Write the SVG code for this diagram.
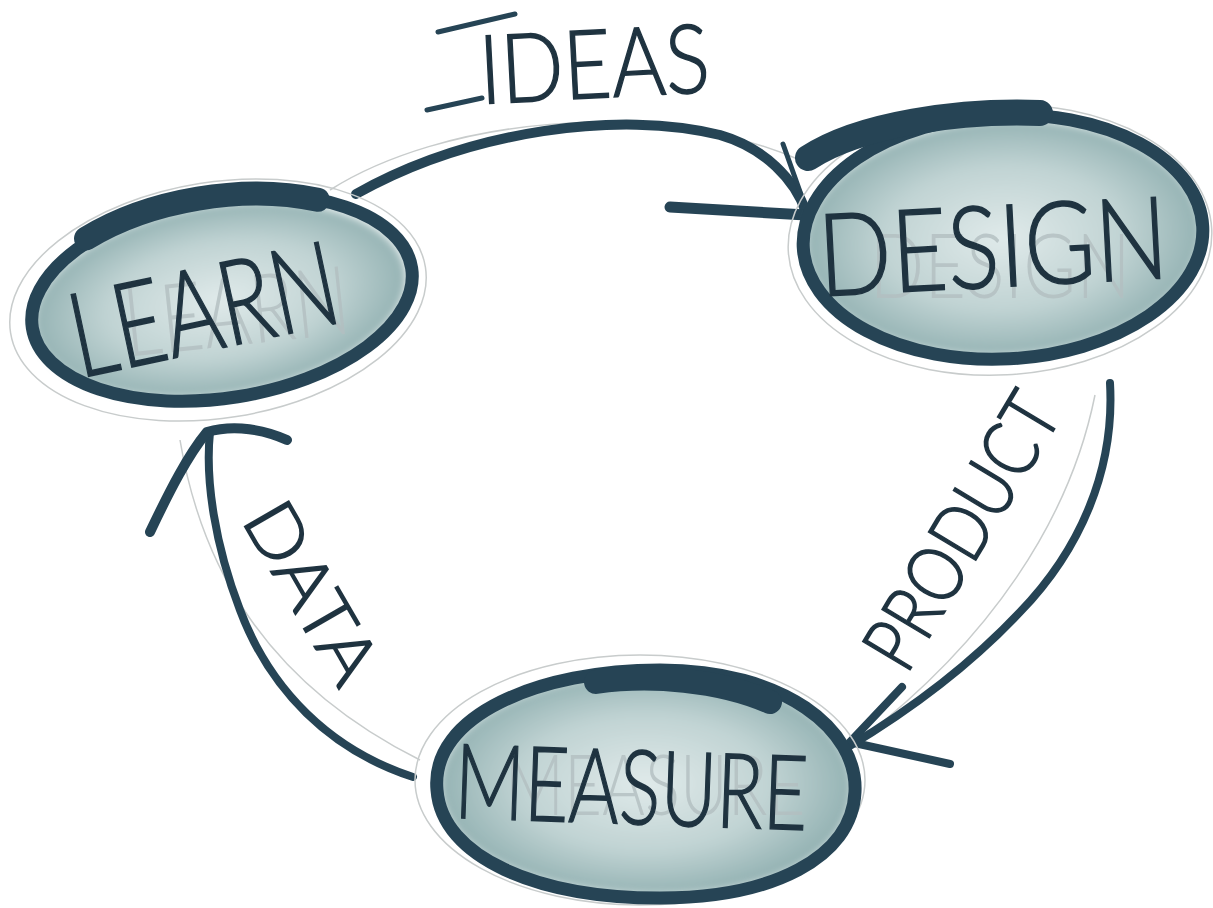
<svg xmlns="http://www.w3.org/2000/svg" width="1213" height="908" viewBox="0 0 1213 908">
  <defs>
    <radialGradient id="wash" cx="50%" cy="50%" r="55%">
      <stop offset="0" stop-color="#e0eaea"/>
      <stop offset="0.55" stop-color="#c0d3d3"/>
      <stop offset="1" stop-color="#8aabac"/>
    </radialGradient>
    <filter id="soft" x="-10%" y="-10%" width="120%" height="120%">
      <feGaussianBlur stdDeviation="4"/>
    </filter>
    <style>
      .ink{fill:none;stroke:#264455;stroke-linecap:round;stroke-linejoin:round}
      .ghost{fill:none;stroke:#c8cccc;stroke-width:1.5}
      .blob{fill:url(#wash);filter:url(#soft)}
      .rim{fill:none;stroke:#264455;stroke-width:13}
      .lbl{font-family:Lato,"Liberation Sans",Arial,sans-serif;fill:#1f3340;font-weight:300;stroke:#1f3340;stroke-width:1.5;text-anchor:middle}
      .ghosttxt{font-family:Lato,"Liberation Sans",Arial,sans-serif;font-weight:300;fill:#b3bfc1;opacity:0.8;text-anchor:middle}
    </style>
  </defs>
  <rect width="1213" height="908" fill="#ffffff"/>

  <g id="connectors">
    <g id="edge-ideas">
      <path class="ghost" d="M330 190 C440 120 650 95 800 160"/>
      <path class="ink" stroke-width="10" d="M356 194 C470 130 620 110 720 135 C765 148 795 180 806 212"/>
      <path class="ink" stroke-width="11" d="M670 207 L806 215"/>
      <path class="ink" stroke-width="5" d="M783 144 L808 214"/>
      <text class="lbl" x="0" y="0" font-size="96" transform="translate(596 98) rotate(-3) scale(0.86 1)">IDEAS</text>
      <path class="ink" stroke-width="5" d="M438 32 L515 14"/>
      <path class="ink" stroke-width="5" d="M427 110 L482 98"/>
    </g>
    <g id="edge-product">
      <path class="ghost" d="M1095 395 C1070 520 990 640 860 740"/>
      <path class="ink" stroke-width="8" d="M1110 383 C1115 470 1080 550 1020 612 C970 665 910 710 848 747"/>
      <path class="ink" stroke-width="8" d="M902 687 L850 742 L950 764"/>
      <text class="lbl" x="0" y="0" font-size="78" transform="translate(985 545) rotate(-59) scale(0.83 1)">PRODUCT</text>
    </g>
    <g id="edge-data">
      <path class="ghost" d="M180 440 C200 560 260 680 420 760"/>
      <path class="ink" stroke-width="8" d="M413 777 C330 750 270 690 240 610 C215 545 205 480 210 432"/>
      <path class="ink" stroke-width="10" d="M150 532 C170 490 188 455 207 432 C235 424 265 430 287 440"/>
      <text class="lbl" x="0" y="0" font-size="72" transform="translate(290 605) rotate(60) scale(1.1 1)">DATA</text>
    </g>
  </g>

  <g id="node-learn">
    <ellipse class="ghost" cx="218" cy="300" rx="210" ry="118" transform="rotate(-9 218 300)"/>
    <ellipse class="blob" cx="220" cy="300" rx="188" ry="95" transform="rotate(-9 220 300)"/>
    <ellipse class="rim" cx="222" cy="298" rx="192" ry="100" transform="rotate(-9 222 298)"/>
    <path class="ink" stroke-width="24" transform="translate(222 298) rotate(-9)" d="M-125 -80 A192 100 0 0 1 110 -82"/>
    <text class="ghosttxt" x="0" y="0" font-size="96" transform="translate(240 345) rotate(-6) scale(0.76 1)">LEARN</text>
    <text class="lbl" x="0" y="0" font-size="118" transform="translate(212 350) rotate(-12) scale(0.74 1)">LEARN</text>
  </g>

  <g id="node-design">
    <ellipse class="ghost" cx="1000" cy="240" rx="212" ry="135" transform="rotate(-3 1000 240)"/>
    <ellipse class="blob" cx="1003" cy="238" rx="198" ry="118" transform="rotate(-3 1003 238)"/>
    <ellipse class="rim" cx="1003" cy="237" rx="200" ry="122" transform="rotate(-3 1003 237)"/>
    <path class="ink" stroke-width="26" d="M808 158 C860 124 960 110 1040 113"/>
    <text class="ghosttxt" x="0" y="0" font-size="90" transform="translate(1000 298) scale(0.8 1)">DESIGN</text>
    <text class="lbl" x="0" y="0" font-size="115" transform="translate(995 287) rotate(-3) scale(0.84 1)">DESIGN</text>
  </g>

  <g id="node-measure">
    <ellipse class="ghost" cx="640" cy="780" rx="225" ry="125"/>
    <path class="blob" d="M440 790 C435 720 540 672 660 672 C780 672 855 730 852 790 C850 855 770 895 660 895 C540 895 445 855 440 790 Z"/>
    <path class="rim" d="M437 790 C430 715 540 670 660 670 C785 670 858 730 855 792 C852 858 772 898 660 898 C538 898 442 858 437 790 Z"/>
    <path class="ink" stroke-width="24" d="M596 682 C650 674 720 680 770 702"/>
    <text class="ghosttxt" x="0" y="0" font-size="84" transform="translate(655 815) scale(0.78 1)">MEASURE</text>
    <text class="lbl" x="0" y="0" font-size="104" transform="translate(630 824) rotate(2) scale(0.74 1)">MEASURE</text>
  </g>
</svg>
